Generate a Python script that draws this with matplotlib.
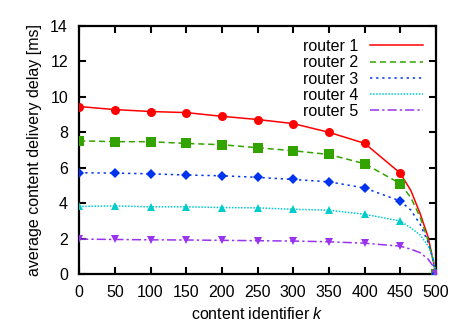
import matplotlib
matplotlib.use("Agg")
import matplotlib.pyplot as plt
from matplotlib.lines import Line2D

plt.rcParams['font.family'] = ['Liberation Sans', 'DejaVu Sans']
plt.rcParams['mathtext.fontset'] = 'custom'
plt.rcParams['mathtext.it'] = 'Liberation Sans:italic'
plt.rcParams['mathtext.rm'] = 'Liberation Sans'

k = [0, 50, 100, 150, 200, 250, 300, 350, 400, 450, 465, 478, 489, 496, 500]
router1 = [9.44, 9.27, 9.16, 9.10, 8.89, 8.71, 8.48, 7.99, 7.37, 5.69, 4.7, 3.4, 2.1, 0.8, 0.0]
router2 = [7.51, 7.46, 7.46, 7.36, 7.29, 7.12, 6.95, 6.74, 6.22, 5.10, 4.3, 3.2, 1.9, 0.8, 0.0]
router3 = [5.71, 5.69, 5.65, 5.58, 5.54, 5.45, 5.33, 5.20, 4.85, 4.12, 3.6, 2.8, 1.8, 0.8, 0.0]
router4 = [3.81, 3.84, 3.79, 3.79, 3.75, 3.73, 3.65, 3.60, 3.37, 2.99, 2.6, 2.2, 1.6, 0.9, 0.0]
router5 = [1.97, 1.95, 1.93, 1.92, 1.90, 1.88, 1.86, 1.82, 1.74, 1.57, 1.4, 1.2, 0.85, 0.45, 0.0]
labels = ["router 1", "router 2", "router 3", "router 4", "router 5"]
xticks = list(range(0, 501, 50))
yticks = list(range(0, 15, 2))

series = [router1, router2, router3, router4, router5]
colors = ["#ff0000", "#33a300", "#0033ee", "#00cccc", "#9933ee"]
styles = ["-", (0, (4, 2.5)), (0, (1.5, 2.5)), (0, (1, 1)), (0, (6, 2, 1.5, 2))]
markers = ["o", "s", "D", "^", "v"]
msizes = [6.5, 7, 5, 6, 6]
mark_idx = [0, 1, 2, 3, 4, 5, 6, 7, 8, 9, 14]

fig = plt.figure(figsize=(4.55, 3.33), dpi=100)
ax = fig.add_axes([0.174, 0.177, 0.784, 0.746])

handles = []
for y, c, ls, m, ms, lab in zip(series, colors, styles, markers, msizes, labels):
    ax.plot(k, y, color=c, linestyle=ls, linewidth=1.1, marker=m, markersize=ms,
            markevery=mark_idx, markeredgewidth=0, zorder=3)
    handles.append(Line2D([], [], color=c, linestyle=ls, linewidth=1.1))

ax.set_xlim(0, 500)
ax.set_ylim(0, 14)
ax.set_xticks(xticks)
ax.set_yticks(yticks)
ax.tick_params(direction='in', length=5, width=1.5, top=True, right=True,
               labelsize=11.5, pad=8)
for s in ax.spines.values():
    s.set_linewidth(1.6)

ax.set_xlabel(r"content identifier $k$", fontsize=11.5, labelpad=4)
ax.set_ylabel("average content delivery delay [ms]", fontsize=11.5, labelpad=6)

ax.legend(handles, labels, loc='upper right', bbox_to_anchor=(0.99, 0.985),
          frameon=False, markerfirst=False, handlelength=3.3, handletextpad=0.75,
          labelspacing=0.08, fontsize=11.5, borderaxespad=0.2)

fig.savefig("out.png", dpi=100)
